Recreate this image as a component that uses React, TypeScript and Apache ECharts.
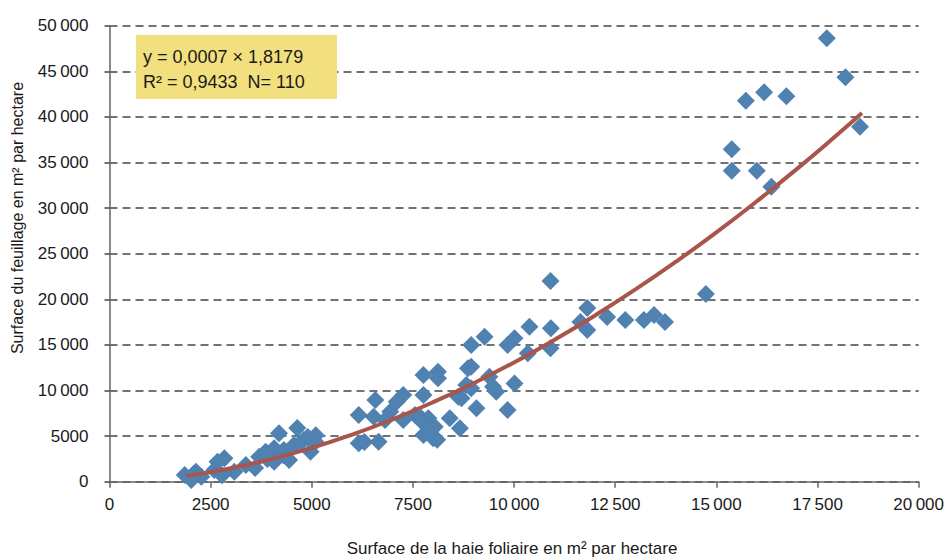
import React, { useEffect, useRef } from "react";
import * as echarts from "echarts";

// Scatter points: [hedge foliage surface m²/ha, foliage surface m²/ha]
const pointsX: number[] = [
  1860, 2020, 2140, 2270, 2080, 2590, 2670, 2840, 2780, 3085, 3370, 3600, 3700, 3860, 4070, 4190,
  4310, 4440, 4640, 4560, 4800, 4970, 5100, 5090, 4070, 3900, 4300, 4700, 4900,
  6160, 6570, 6530, 6160, 6650, 6940, 7260, 7100, 6810, 7760, 8120, 7760, 7260, 7550, 7760, 7880,
  8040, 7760, 8000, 8410, 8660, 8700, 8860, 8940, 6300, 7900, 7700, 8100,
  8940, 9270, 9840, 10010, 10380, 10910, 10340, 10900, 8940, 8120, 9390, 9480, 9560, 10010, 8820,
  8620, 9070, 9840,
  10900, 11640, 11810, 11810, 12300, 12750, 13210, 13460, 13730, 14740,
  17730, 18190, 18550, 15730, 16180, 16730, 15380, 15380, 16000, 16360,
];
const pointsY: number[] = [
  730, 190, 1100, 550, 850, 1280, 2190, 2570, 700, 1100, 1830, 1500, 2740, 3290, 3660, 5300,
  3480, 2380, 5900, 4020, 4570, 3290, 5100, 4390, 2190, 2500, 2900, 4200, 4900,
  7310, 8960, 7130, 4210, 4390, 7680, 9510, 8770, 6770, 11700, 12060, 9510, 6770, 7310, 6400, 6950,
  6030, 5120, 4760, 6950, 5860, 9150, 12430, 10240, 4350, 5600, 7000, 4600,
  14990, 15900, 14990, 15720, 17000, 16820, 14080, 14640, 12600, 11340, 11510, 10420, 9870, 10770, 10600,
  9320, 8050, 7860,
  22000, 17510, 19050, 16630, 18060, 17730, 17730, 18280, 17510, 20580,
  48620, 44340, 38930, 41780, 42700, 42260, 36450, 34100, 34100, 32350,
];

// Trend curve
const curveX: number[] = [
  1900, 2500, 3000, 4000, 5000, 6000, 7000, 8000, 9000, 10000, 11000, 12000, 13000, 14000, 15000,
  16000, 17000, 18000, 18600,
];
const curveY: number[] = [
  640, 1050, 1470, 2470, 3710, 5170, 6840, 8720, 10800, 13080, 15560, 18230, 21080, 24120, 27340,
  30750, 34330, 38090, 40420,
];

const xTicks = { min: 0, max: 20000, interval: 2500 };
const yTicks = { min: 0, max: 50000, interval: 5000 };

const xTitle = "Surface de la haie foliaire en m² par hectare";
const yTitle = "Surface du feuillage en m² par hectare";
const noteLines: string[] = ["y = 0,0007 × 1,8179", "R² = 0,9433  N= 110"];

const FONT = "'Liberation Sans', Arial, sans-serif";

function fmt(v: number): string {
  if (v >= 10000) {
    const s = String(v);
    return s.slice(0, s.length - 3) + "\u2009" + s.slice(s.length - 3);
  }
  return String(v);
}

export default function App() {
  const ref = useRef<HTMLDivElement>(null);
  useEffect(() => {
    if (!ref.current) return;
    const chart = echarts.init(ref.current, null, { renderer: "svg" });
    const scatterData = pointsX.map((x, i) => [x, pointsY[i]]);
    const curveData = curveX.map((x, i) => [x, curveY[i]]);
    chart.setOption({
      animation: false,
      backgroundColor: "#ffffff",
      grid: { left: 109.5, right: 24, top: 25.7, bottom: 77.3, containLabel: false },
      xAxis: {
        type: "value",
        min: xTicks.min,
        max: xTicks.max,
        interval: xTicks.interval,
        axisLine: { show: true, lineStyle: { color: "#666666", width: 1.5 } },
        axisTick: { show: true, length: 6, lineStyle: { color: "#666666", width: 1.5 } },
        splitLine: { show: false },
        axisLabel: {
          formatter: (v: number) => fmt(v),
          color: "#1a1a1a",
          fontSize: 17,
          fontFamily: FONT,
          margin: 14,
        },
      },
      yAxis: {
        type: "value",
        min: yTicks.min,
        max: yTicks.max,
        interval: yTicks.interval,
        axisLine: { show: true, lineStyle: { color: "#666666", width: 1.5 } },
        axisTick: { show: true, length: 5, lineStyle: { color: "#444444", width: 1.5 } },
        splitLine: {
          show: true,
          lineStyle: { color: "#444444", width: 1.5, type: [8, 5] },
        },
        axisLabel: {
          formatter: (v: number) => fmt(v),
          color: "#1a1a1a",
          fontSize: 17,
          fontFamily: FONT,
          margin: 21,
        },
      },
      series: [
        {
          type: "scatter",
          data: scatterData,
          symbol: "diamond",
          symbolSize: 18,
          itemStyle: { color: "#4F81B1", opacity: 1 },
          z: 2,
        },
        {
          type: "line",
          data: curveData,
          smooth: true,
          showSymbol: false,
          symbol: "none",
          lineStyle: { color: "#A9554B", width: 4 },
          z: 3,
        },
      ],
      graphic: [
        {
          type: "rect",
          shape: { x: 136, y: 35, width: 201, height: 64 },
          style: { fill: "#F2DF7D" },
          z: 10,
        },
        {
          type: "text",
          x: 143,
          y: 57,
          style: {
            text: noteLines[0],
            fill: "#1a1a1a",
            font: `18px ${FONT}`,
            textAlign: "left",
            textVerticalAlign: "middle",
          },
          z: 11,
        },
        {
          type: "text",
          x: 143,
          y: 82,
          style: {
            text: noteLines[1],
            fill: "#1a1a1a",
            font: `18px ${FONT}`,
            textAlign: "left",
            textVerticalAlign: "middle",
          },
          z: 11,
        },
        {
          type: "text",
          x: 512,
          y: 548,
          style: {
            text: xTitle,
            fill: "#1a1a1a",
            font: `17px ${FONT}`,
            textAlign: "center",
            textVerticalAlign: "middle",
          },
        },
        {
          type: "text",
          x: 17,
          y: 218,
          rotation: Math.PI / 2,
          style: {
            text: yTitle,
            fill: "#1a1a1a",
            font: `16px ${FONT}`,
            textAlign: "center",
            textVerticalAlign: "middle",
          },
        },
      ],
    });
    return () => chart.dispose();
  }, []);
  return (
    <div
      ref={ref}
      style={{ position: "absolute", left: 0, top: 0, width: 947, height: 559 }}
    />
  );
}
